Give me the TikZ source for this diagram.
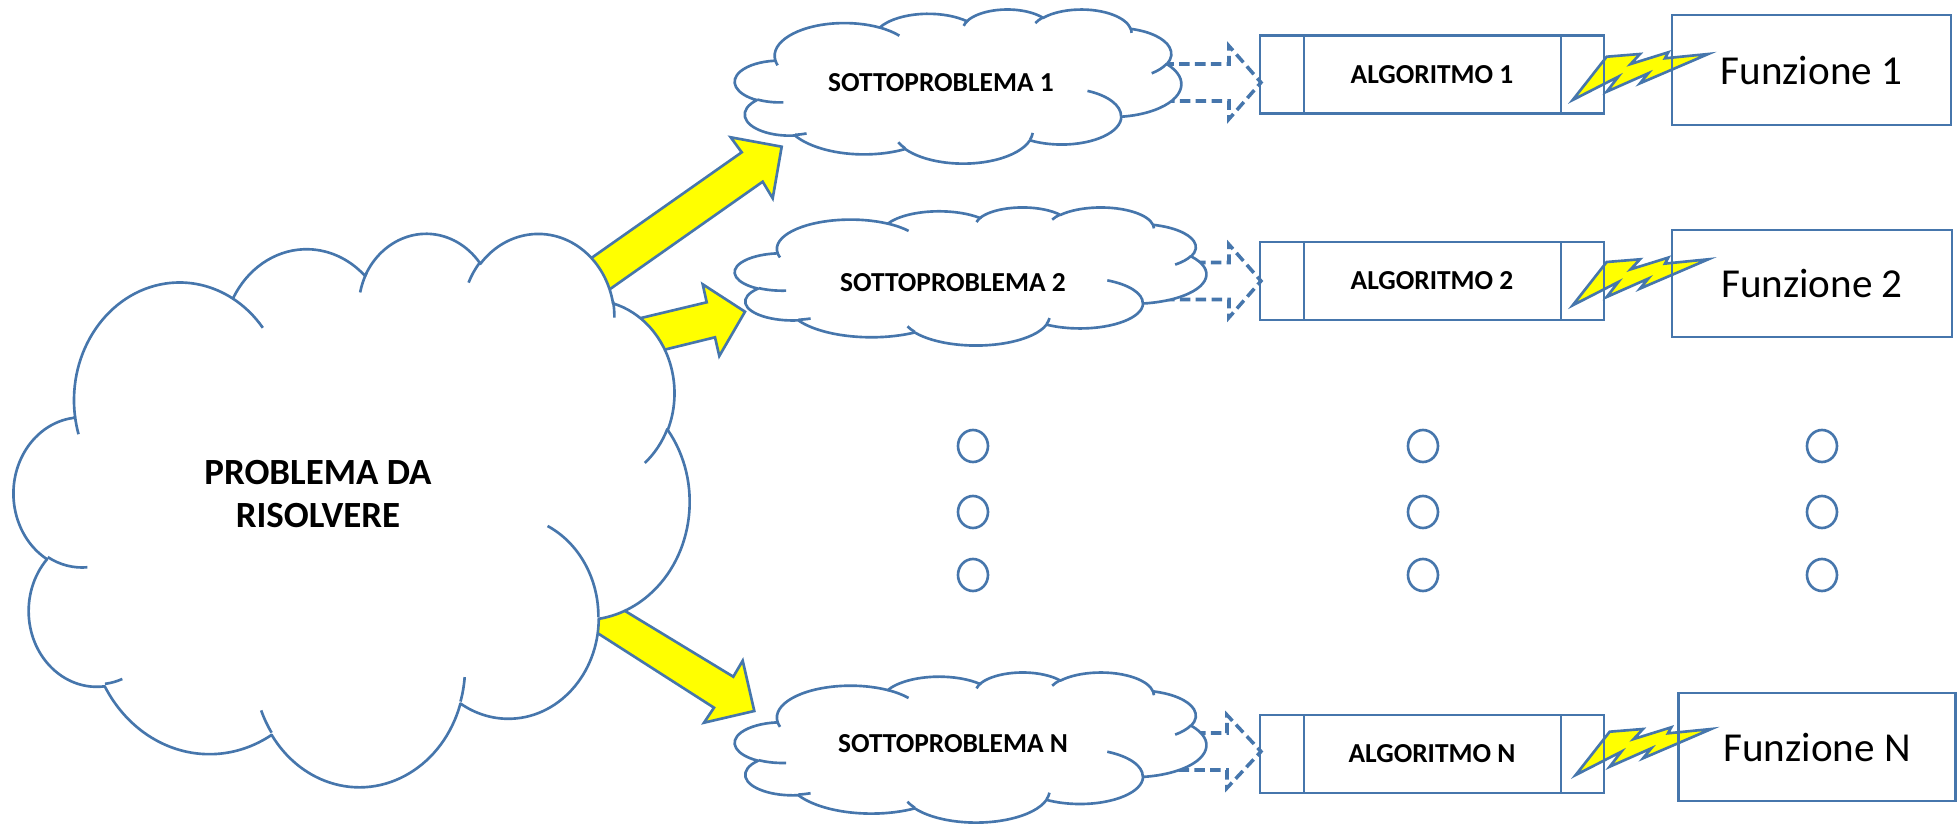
\documentclass[tikz,border=0pt]{standalone}
\usepackage{fontspec}
\setmainfont{Carlito}
\definecolor{edgeblue}{RGB}{70,118,172}
\definecolor{boltyellow}{RGB}{255,255,0}

% DrawingML-style arcTo: radii, visual start angle, visual sweep angle
\newcommand\oosweep[4]{(atan2((#1)*sin((#3)+(#4)),(#2)*cos((#3)+(#4)))-atan2((#1)*sin(#3),(#2)*cos(#3)))-360*round(((atan2((#1)*sin((#3)+(#4)),(#2)*cos((#3)+(#4)))-atan2((#1)*sin(#3),(#2)*cos(#3)))-(#4))/360)}
\newcommand\ooarc[4]{arc[x radius=#1, y radius=#2, start angle={atan2((#1)*sin(#3),(#2)*cos(#3))}, delta angle={\oosweep{#1}{#2}{#3}{#4}}]}

% cloud outline in a 43.2 x 43.2 box
\newcommand\cloudoutline{(3.900,14.370)
  \ooarc{6.753}{9.190}{-190.4875}{123.7805}
  \ooarc{5.333}{7.267}{-144.1024}{89.9452}
  \ooarc{4.365}{5.945}{-145.8079}{99.7230}
  \ooarc{4.857}{6.595}{-130.9861}{117.2417}
  \ooarc{5.333}{7.273}{-78.7089}{109.0269}
  \ooarc{6.775}{9.220}{-46.2673}{130.2690}
  \ooarc{5.785}{7.867}{0.6250}{114.0333}
  \ooarc{6.752}{9.215}{22.4516}{115.1726}
  \ooarc{7.720}{10.543}{66.2426}{75.7110}
  \ooarc{4.360}{5.918}{-274.9421}{146.7356}
  \ooarc{4.345}{5.945}{-246.8285}{152.5189}
  -- cycle}
% the short inner creases of the cloud
\newcommand\cloudcreases{
  (4.693,26.177) \ooarc{4.345}{5.945}{86.7420}{26.4295}
  (6.928,34.899) \ooarc{4.360}{5.918}{73.6105}{11.4475}
  (16.478,39.090) \ooarc{6.752}{9.215}{137.6242}{14.0811}
  (28.827,34.751) \ooarc{6.752}{9.215}{6.4533}{15.9984}
  (34.129,22.954) \ooarc{5.785}{7.867}{-70.2924}{70.9174}
  (41.798,15.354) \ooarc{5.333}{7.273}{30.3180}{27.7515}
  (38.324,5.426) \ooarc{4.857}{6.595}{-13.7443}{14.8589}
  (29.078,3.952) \ooarc{4.857}{6.595}{-149.1815}{18.1954}
  (22.141,4.720) \ooarc{4.365}{5.945}{-163.4943}{19.5089}
  (14.005,5.202) \ooarc{6.753}{9.190}{-66.707}{20.0}
  (4.127,15.789) \ooarc{6.753}{9.190}{-202.36}{11.87}}
% cloud placed in the box with top-left corner (#1,#2), width #3, height #4
\newcommand\ppcloud[4]{%
  \begin{scope}[shift={(#1,#2)}, x={#3/4320*1cm}, y={-#4/4320*1cm}]
    \draw[ln, fill=white] \cloudoutline;
    \draw[ln] \cloudcreases;
  \end{scope}}

% lightning bolt between an algorithm box and its function box
\newcommand\boltshape{(1572.7,100) -- (1606.7,56.7) -- (1640,54) -- (1630.7,64)
  -- (1668.3,52.3) -- (1665,58.3) -- (1708.3,54) -- (1640,83.3) -- (1648.3,73.3)
  -- (1606.7,91.7) -- (1618.3,76.7) -- cycle}

\begin{document}
\begin{tikzpicture}[x=0.01cm, y=-0.01cm,
  ln/.style={draw=edgeblue, line width=0.75pt, line join=round},
  hollow/.style={draw=edgeblue, line width=1pt, dash pattern=on 3pt off 1.5pt},
  fat/.style={draw=edgeblue, fill=boltyellow, line width=0.75pt, line join=miter},
  subtext/.style={font=\fontsize{7.8pt}{9pt}\selectfont\bfseries, inner sep=0pt},
  bigtext/.style={font=\fontsize{10.5pt}{12.4pt}\selectfont\bfseries, align=center, inner sep=0pt},
  algobox/.style={draw=edgeblue, line width=0.75pt, minimum width=3.44cm, minimum height=0.78cm,
    inner sep=0pt, outer sep=0pt, font=\fontsize{7.8pt}{9pt}\selectfont\bfseries},
  funbox/.style={draw=edgeblue, line width=0.75pt, minimum height=1.08cm,
    inner sep=0pt, outer sep=0pt, font=\fontsize{11.7pt}{14pt}\selectfont}]
\useasboundingbox (0,0) rectangle (1959,824);

% dashed hollow arrows towards the algorithms (tails hidden by the clouds)
\foreach \yy/\xb in {82.5/1229, 281/1229, 751.5/1227}{
  \draw[hollow] (1100,\yy-18.5) -- (\xb,\yy-18.5) -- (\xb,\yy-36.5) -- (1261,\yy)
    -- (\xb,\yy+36.5) -- (\xb,\yy+18.5) -- (1100,\yy+18.5);
}

% yellow block arrows from the main problem to the subproblems
\draw[fat] (544.2,291.2) -- (741.7,152.3) -- (730.7,137.3) -- (781.7,146.7)
  -- (772.7,198.3) -- (762.7,181.7) -- (569.2,317.8) -- cycle;
\draw[fat] (600,327.8) -- (706.7,302.3) -- (702.7,284.3) -- (745,311.7)
  -- (719.3,356) -- (715,337.3) -- (620,360.6) -- cycle;
\draw[fat] (583.8,585.9) -- (733.3,676.7) -- (742.7,660.7) -- (754.3,711)
  -- (704,722.7) -- (714,707.7) -- (574.6,618.4) -- cycle;

% clouds
\ppcloud{14}{232}{675}{553}
\ppcloud{735}{9}{446}{154}
\ppcloud{735}{207}{471}{138}
\ppcloud{735}{672}{471}{150}

\node[bigtext] (prob) at (318,494) {PROBLEMA DA\\RISOLVERE};
\node[subtext] (s1) at (941,83) {SOTTOPROBLEMA 1};
\node[subtext] (s2) at (953,283) {SOTTOPROBLEMA 2};
\node[subtext] (sN) at (953,744) {SOTTOPROBLEMA N};

% lightning bolts
\draw[fat] \boltshape;
\begin{scope}[shift={(0,205.3)}] \draw[fat] \boltshape; \end{scope}
\begin{scope}[shift={(3,675)}] \draw[fat] \boltshape; \end{scope}

% algorithm boxes (predefined-process style)
\foreach \nm/\yy/\tx in {a1/74.5/ALGORITMO 1, a2/281/ALGORITMO 2, aN/754/ALGORITMO N}{
  \node[algobox] (\nm) at (1432,\yy) {\tx};
  \draw[ln] ([xshift=0.44cm]\nm.north west) -- ([xshift=0.44cm]\nm.south west);
  \draw[ln] ([xshift=-0.43cm]\nm.north east) -- ([xshift=-0.43cm]\nm.south east);
}

% function boxes
\node[funbox, minimum width=2.79cm, minimum height=1.10cm] (f1) at (1811.5,70) {Funzione 1};
\node[funbox, minimum width=2.80cm, minimum height=1.07cm] (f2) at (1812,283.5) {Funzione 2};
\node[funbox, minimum width=2.77cm] (fN) at (1817,747) {Funzione N};

% ellipsis marks
\foreach \xx in {973,1423,1822}
  \foreach \yy in {446,512,575}
    \draw[ln] (\xx,\yy) ellipse [x radius=15, y radius=16];
\end{tikzpicture}
\end{document}
